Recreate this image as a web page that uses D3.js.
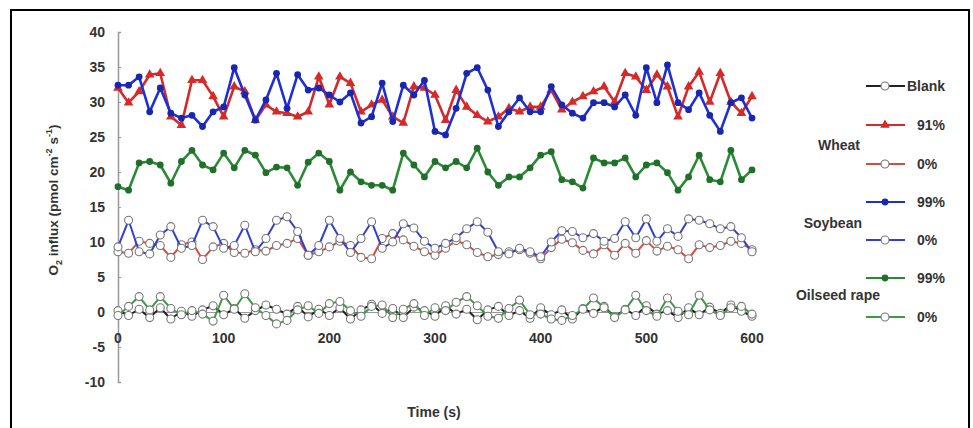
<!DOCTYPE html>
<html>
<head>
<meta charset="utf-8">
<script src="https://cdn.jsdelivr.net/npm/d3@7"></script>
<style>
    body { margin: 0; background: #fff; }
    svg text { font-family: "Liberation Sans", Arial, sans-serif; font-weight: bold; fill: #333; }
</style>
</head>
<body>
<svg id="chart" width="973" height="428"></svg>
<script>
// time points, one every 10 s
var times = d3.range(0, 601, 10);

var yTicks = [40, 35, 30, 25, 20, 15, 10, 5, 0, -5, -10];
var xTicks = [0, 100, 200, 300, 400, 500, 600];

var blank = [0.2, -0.5, 0.4, -0.8, 0.6, -1.0, 0.1, -0.6, 0.3, 0.9, -0.4, 0.5, -0.9, 0.2, 1.0, 0.4, -0.3, 0.8, -0.7, 0.4,
    -0.5, 0.6, -1.0, 0.3, 1.1, -0.2, 0.5, -0.8, 0.7, 0.2, -0.6, 0.9, -0.3, 0.4, -1.1, 0.3, 0.8, -0.5, 0.2, -0.9,
    0.6, -0.4, 0.3, -1.0, 0.5, -0.2, 0.8, -0.7, 0.4, -0.5, 0.9, -0.3, 0.2, -0.8, 0.6, -0.4, 0.7, -0.2, 1.0, 0.1, -0.6];

var wheat91 = [32, 29.9, 31.5, 33.9, 34.1, 27.9, 26.7, 33.1, 33.1, 30.8, 27.9, 32.2, 31.5, 27.4, 29.6, 28.6, 28.4, 27.9, 28.6, 33.6,
    29.6, 33.6, 32.7, 28.6, 29.6, 30.3, 27.9, 27, 32.2, 32, 31, 27.4, 31.7, 29.3, 28.1, 27.2, 27.9, 29.1, 28.6, 29.3,
    29.3, 31.7, 28.9, 30, 30.8, 31.5, 32.2, 30, 34.1, 33.6, 31.7, 33.9, 32.2, 27.9, 32.2, 34.3, 30, 34.1, 30, 28.4, 30.8];

var wheat0 = [8.6, 8.4, 10.1, 9.8, 9.5, 7.8, 9.6, 10, 7.5, 9.3, 9.8, 8.5, 8.4, 8.9, 8.7, 9.5, 9.8, 10.5, 8.1, 8.6,
    9.3, 10.1, 9.5, 7.8, 7.6, 10.5, 11.2, 10.3, 9.4, 8.6, 8.1, 9.1, 10.2, 9.6, 8.5, 7.9, 8.2, 8.6, 8.9, 8.4,
    7.6, 9.2, 10.4, 9.9, 8.8, 8.3, 9.6, 8.1, 9.8, 8.4, 10.2, 8.7, 9.4, 8.9, 7.6, 9.6, 9.2, 9.5, 10.1, 9.8, 8.9];

var soy99 = [32.4, 32.4, 33.6, 28.6, 32, 28.4, 27.7, 28.1, 26.5, 28.6, 29.3, 34.9, 31, 27.4, 30.3, 34.1, 29.1, 33.9, 31.7, 32,
    31, 30, 31.3, 27, 27.9, 32.7, 27.2, 32.4, 31, 33.1, 25.8, 25.3, 29.1, 34.1, 34.9, 31.7, 26.5, 28.6, 30.6, 28.6,
    28.6, 32.2, 29.6, 28.4, 27.7, 29.9, 29.9, 29.3, 31, 28.1, 34.9, 29.9, 35.3, 29.9, 28.9, 31.3, 28.1, 25.8, 29.9, 30.6, 27.7];

var soy0 = [9.3, 13.1, 8.6, 8.3, 11, 12.2, 9.1, 9.5, 13.1, 12.2, 9.1, 9.5, 12.4, 8.6, 10.5, 13.1, 13.6, 11.5, 8.1, 9.5,
    13.1, 10.5, 8.5, 10.5, 12.9, 9.1, 10, 12.6, 12, 10.1, 9.1, 9.8, 10.6, 11.9, 12.9, 11.4, 8.6, 8.3, 9.1, 8.6,
    7.9, 10, 11.6, 11.5, 10.6, 11.2, 10.1, 10.5, 12.9, 10.6, 13.3, 10.1, 11.9, 10.8, 13.3, 13.1, 12.6, 11.9, 12.2, 10.6, 8.6];

var rape99 = [17.9, 17.4, 21.3, 21.5, 21, 18.4, 21.5, 23.1, 21, 20.3, 22.7, 20.6, 23.1, 22.4, 19.9, 20.7, 20.6, 18.1, 21.4, 22.7,
    21.5, 17.4, 20, 18.6, 18.1, 18.1, 17.4, 22.7, 21, 19.3, 21.5, 20.6, 21.5, 20.6, 23.4, 20, 18.1, 19.3, 19.3, 20.6,
    22.4, 22.9, 18.9, 18.6, 17.7, 22, 21.3, 21.3, 22, 19.3, 21, 21.3, 19.9, 17.4, 19.3, 22.4, 18.9, 18.6, 23.1, 18.9, 20.3];

var rape0 = [-0.5, 0.8, 2.2, 0.3, 2.2, 0.5, -0.4, 0.2, -0.3, -1.3, 2.4, 0.4, 2.6, 0.6, -0.5, -1.7, -1.2, 0.3, 0.9, -0.2,
    1.2, 1.5, 0.2, -0.6, 0.8, 1.0, -0.8, 0.4, 1.2, -0.5, 0.6, 0.2, 1.4, 2.2, 0.9, -0.6, -0.9, 0.5, 1.7, -0.4,
    -0.3, -1.0, -1.2, -0.5, 0.4, 2.0, 0.6, -0.8, 0.3, 2.4, 0.2, -0.6, 2.0, 0.1, -0.4, 2.4, 0.3, -0.5, 0.6, 0.8, -0.3];

var series = [
    { name: 'Blank', values: blank, color: '#222', marker: 'open' },
    { name: '91%', values: wheat91, color: '#d42a2a', marker: 'triangle' },
    { name: '0%', values: wheat0, color: '#d84a3a', marker: 'open' },
    { name: '99%', values: soy99, color: '#1f2fd8', marker: 'dot' },
    { name: '0%', values: soy0, color: '#3040d0', marker: 'open' },
    { name: '99%', values: rape99, color: '#2a8a35', marker: 'dot' },
    { name: '0%', values: rape0, color: '#3c9a45', marker: 'open' }
];

var groupLabels = [
    { text: 'Wheat', y: 145, x: 860 },
    { text: 'Soybean', y: 223, x: 862 },
    { text: 'Oilseed rape', y: 295, x: 880 }
];

var svg = d3.select('#chart');

// outer frame
svg.append('rect')
    .attr('x', 11).attr('y', 10)
    .attr('width', 958).attr('height', 430)
    .attr('fill', 'none').attr('stroke', '#000').attr('stroke-width', 2);

var x = d3.scaleLinear().domain([0, 600]).range([118, 752]);
var y = d3.scaleLinear().domain([-10, 40]).range([382, 32]);

// y axis
var yAxisG = svg.append('g').attr('transform', 'translate(' + x(0) + ',0)')
    .call(d3.axisRight(y).tickValues(yTicks).tickSize(3).tickFormat(''));
yAxisG.select('.domain').attr('stroke', '#999').attr('stroke-width', 1.5);
yAxisG.selectAll('.tick line').attr('stroke', '#999');

svg.append('g').selectAll('text').data(yTicks).enter().append('text')
    .attr('x', 105).attr('y', function (d) { return y(d); })
    .attr('dy', '0.35em').attr('text-anchor', 'end')
    .style('font-size', '14px')
    .text(function (d) { return d; });

// x axis crosses at 0
var xAxisG = svg.append('g').attr('transform', 'translate(0,' + y(0) + ')')
    .call(d3.axisBottom(x).tickValues(xTicks).tickSize(3).tickFormat(''));
xAxisG.select('.domain').attr('stroke', '#999').attr('stroke-width', 1.2);
xAxisG.selectAll('.tick line').attr('stroke', '#999');

svg.append('g').selectAll('text').data(xTicks).enter().append('text')
    .attr('x', function (d) { return x(d); }).attr('y', 338)
    .attr('dy', '0.35em').attr('text-anchor', 'middle')
    .style('font-size', '14px')
    .text(function (d) { return d; });

// axis titles
svg.append('text')
    .attr('x', 434).attr('y', 412).attr('dy', '0.35em').attr('text-anchor', 'middle')
    .style('font-size', '14px').text('Time (s)');

var yTitle = svg.append('text')
    .attr('transform', 'translate(58,200) rotate(-90)')
    .attr('text-anchor', 'middle').style('font-size', '13.5px');
yTitle.append('tspan').text('O');
yTitle.append('tspan').attr('dy', 4).style('font-size', '9px').text('2');
yTitle.append('tspan').attr('dy', -4).text(' influx (pmol cm');
yTitle.append('tspan').attr('dy', -6).style('font-size', '9px').text('-2');
yTitle.append('tspan').attr('dy', 6).text(' s');
yTitle.append('tspan').attr('dy', -6).style('font-size', '9px').text('-1');
yTitle.append('tspan').attr('dy', 6).text(')');

var line = d3.line()
    .x(function (d, i) { return x(times[i]); })
    .y(function (d) { return y(d); });

function drawMarker(g, s, cx, cy) {
    if (s.marker === 'triangle') {
        g.append('path')
            .attr('d', d3.symbol().type(d3.symbolTriangle).size(40)())
            .attr('transform', 'translate(' + cx + ',' + cy + ')')
            .attr('fill', s.color);
    } else if (s.marker === 'dot') {
        g.append('circle').attr('cx', cx).attr('cy', cy).attr('r', 3.4)
            .attr('fill', d3.color(s.color).darker(0.6));
    } else {
        g.append('circle').attr('cx', cx).attr('cy', cy).attr('r', 4)
            .attr('fill', '#fff').attr('stroke', '#777')
            .attr('stroke-width', 1.1);
    }
}

series.forEach(function (s) {
    var g = svg.append('g');
    g.append('path')
        .attr('d', line(s.values))
        .attr('fill', 'none')
        .attr('stroke', s.color)
        .attr('stroke-width', s.marker === 'open' ? 2 : 2.6)
        .attr('stroke-linejoin', 'round');
    s.values.forEach(function (v, i) {
        drawMarker(g, s, x(times[i]), y(v));
    });
});

// legend
var legendY = [86, 125, 164, 202, 240, 278, 317];
series.forEach(function (s, i) {
    var g = svg.append('g');
    var ly = legendY[i];
    g.append('line')
        .attr('x1', 866).attr('x2', 905).attr('y1', ly).attr('y2', ly)
        .attr('stroke', s.color).attr('stroke-width', 2);
    drawMarker(g, s, 885, ly);
    g.append('text')
        .attr('x', i === 0 ? 907 : 917).attr('y', ly).attr('dy', '0.35em')
        .style('font-size', '14px')
        .text(s.name);
});

svg.append('g').selectAll('text').data(groupLabels).enter().append('text')
    .attr('x', function (d) { return d.x; })
    .attr('y', function (d) { return d.y; })
    .attr('dy', '0.35em').attr('text-anchor', 'end')
    .style('font-size', '14px')
    .text(function (d) { return d.text; });
</script>
</body>
</html>
